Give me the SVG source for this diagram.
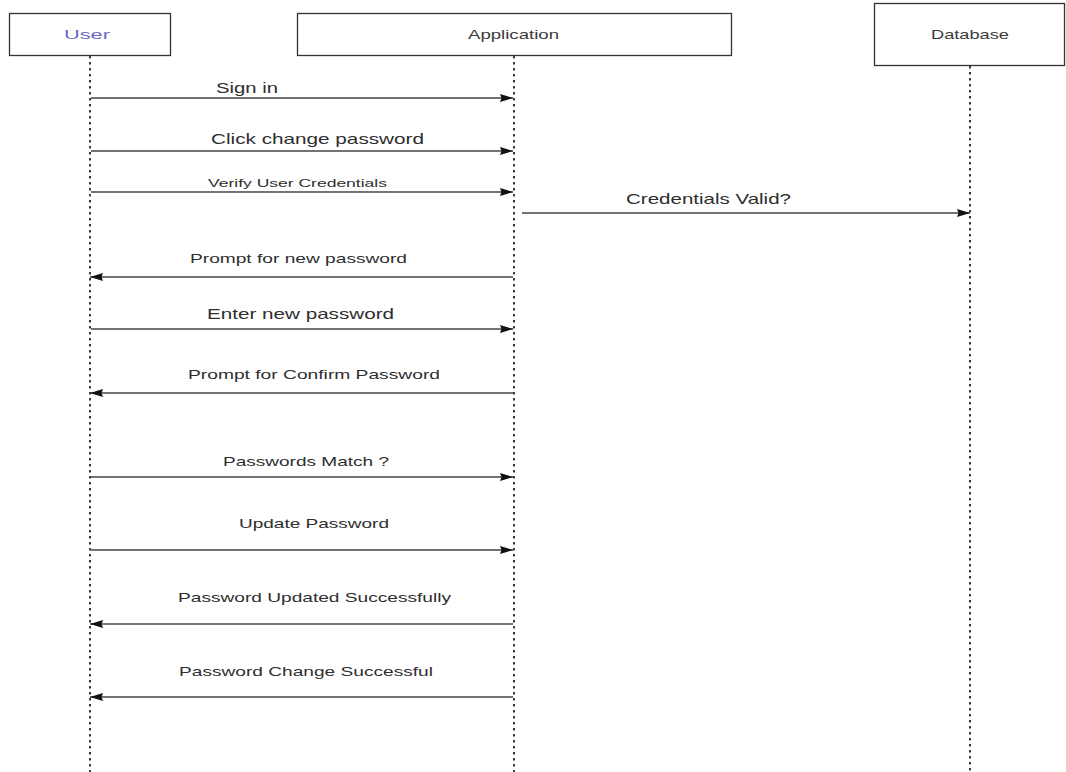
<svg xmlns="http://www.w3.org/2000/svg" width="1066" height="772" viewBox="0 0 1066 772">
  <style>
    .box { fill: #ffffff; stroke: #333333; stroke-width: 1.3; }
    .life { stroke: #2a2a2a; stroke-width: 1.8; stroke-dasharray: 2.5 3.5; fill: none; }
    .msg { stroke: #444444; stroke-width: 1.4; fill: none; marker-end: url(#head); }
    .hdr { font-family: "Liberation Sans", Arial, sans-serif; font-size: 13.5px; fill: #3a3a3a; }
    .lbl { font-family: "Liberation Sans", Arial, sans-serif; font-size: 13.5px; fill: #2e2e2e; }
    .big { font-size: 14.5px; }
    .small { font-size: 11px; }
  </style>
  <defs>
    <marker id="head" markerUnits="userSpaceOnUse" markerWidth="14" markerHeight="10" refX="13" refY="4" orient="auto">
      <path d="M0,0 L13,4 L0,8 L1.5,4 Z" fill="#111111"/>
    </marker>
  </defs>

  <!-- participants -->
  <g id="user">
    <rect class="box" x="9.5" y="13.5" width="161" height="42"/>
    <text class="hdr" x="64" y="39" textLength="46" lengthAdjust="spacingAndGlyphs" style="fill:#6a6ac0">User</text>
  </g>
  <g id="application">
    <rect class="box" x="297.5" y="13.5" width="434" height="42"/>
    <text class="hdr" x="468" y="39" textLength="91" lengthAdjust="spacingAndGlyphs">Application</text>
  </g>
  <g id="database">
    <rect class="box" x="874.5" y="3.5" width="190" height="62"/>
    <text class="hdr" x="931" y="39" textLength="78" lengthAdjust="spacingAndGlyphs">Database</text>
  </g>

  <!-- lifelines -->
  <g id="lifelines">
    <line class="life" x1="90" y1="56" x2="90" y2="772"/>
    <line class="life" x1="514" y1="56" x2="514" y2="772"/>
    <line class="life" x1="970" y1="66" x2="970" y2="772"/>
  </g>

  <!-- messages -->
  <g id="connectors">
    <line class="msg" x1="91" y1="98" x2="513" y2="98"/>
    <line class="msg" x1="91" y1="151" x2="513" y2="151"/>
    <line class="msg" x1="91" y1="192" x2="513" y2="192"/>
    <line class="msg" x1="522" y1="213" x2="970" y2="213"/>
    <line class="msg" x1="513" y1="277" x2="90" y2="277"/>
    <line class="msg" x1="91" y1="329" x2="513" y2="329"/>
    <line class="msg" x1="513" y1="393" x2="90" y2="393"/>
    <line class="msg" x1="91" y1="477" x2="513" y2="477"/>
    <line class="msg" x1="91" y1="550" x2="513" y2="550"/>
    <line class="msg" x1="513" y1="624" x2="90" y2="624"/>
    <line class="msg" x1="513" y1="697" x2="90" y2="697"/>
  </g>

  <!-- message labels -->
  <g id="labels">
    <text class="lbl big" x="216" y="93" textLength="62" lengthAdjust="spacingAndGlyphs">Sign in</text>
    <text class="lbl big" x="211" y="144" textLength="213" lengthAdjust="spacingAndGlyphs">Click change password</text>
    <text class="lbl small" x="208" y="187" textLength="179" lengthAdjust="spacingAndGlyphs">Verify User Credentials</text>
    <text class="lbl big" x="626" y="204" textLength="165" lengthAdjust="spacingAndGlyphs">Credentials Valid?</text>
    <text class="lbl" x="190" y="263" textLength="217" lengthAdjust="spacingAndGlyphs">Prompt for new password</text>
    <text class="lbl big" x="207" y="319" textLength="187" lengthAdjust="spacingAndGlyphs">Enter new password</text>
    <text class="lbl" x="188" y="379" textLength="252" lengthAdjust="spacingAndGlyphs">Prompt for Confirm Password</text>
    <text class="lbl" x="223" y="466" textLength="166" lengthAdjust="spacingAndGlyphs">Passwords Match ?</text>
    <text class="lbl" x="239" y="528" textLength="150" lengthAdjust="spacingAndGlyphs">Update Password</text>
    <text class="lbl" x="178" y="602" textLength="273" lengthAdjust="spacingAndGlyphs">Password Updated Successfully</text>
    <text class="lbl" x="179" y="676" textLength="254" lengthAdjust="spacingAndGlyphs">Password Change Successful</text>
  </g>
</svg>
